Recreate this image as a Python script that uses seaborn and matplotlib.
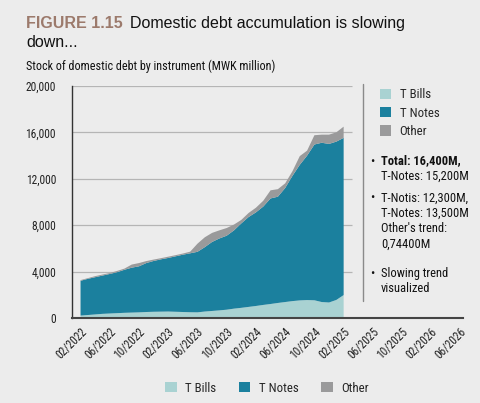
import matplotlib
matplotlib.use("Agg")
import matplotlib.pyplot as plt
import seaborn as sns
from matplotlib.patches import Patch
from matplotlib.lines import Line2D

# ---------------- data ----------------
month_index = list(range(37))  # 02/2022 ... 02/2025, monthly
t_bills = [250, 300, 350, 400, 430, 460, 490, 510, 530, 560, 580, 590, 600,
           580, 560, 540, 530, 600, 650, 700, 760, 850, 920, 1000, 1080, 1170,
           1250, 1340, 1420, 1500, 1560, 1590, 1570, 1420, 1380, 1600, 2020]
t_notes = [3000, 3120, 3210, 3300, 3410, 3530, 3710, 3870, 3970, 4220, 4380,
           4510, 4620, 4780, 4940, 5080, 5220, 5550, 5950, 6200, 6380, 6750,
           7280, 7750, 8070, 8480, 9100, 9160, 9830, 10800, 11690, 12450,
           13430, 13730, 13670, 13650, 13550]
other = [60, 60, 90, 90, 80, 110, 100, 270, 280, 170, 120, 100, 110, 100, 100,
         140, 700, 850, 780, 700, 660, 500, 300, 350, 400, 500, 700, 650, 400,
         400, 750, 430, 800, 700, 800, 800, 970]
series_names = ["T Bills", "T Notes", "Other"]
tick_positions = list(range(0, 53, 4))
tick_labels = ["02/2022", "06/2022", "10/2022", "02/2023", "06/2023", "10/2023",
               "02/2024", "06/2024", "10/2024", "02/2025", "06/2025", "10/2025",
               "02/2026", "06/2026"]
y_ticks = [0, 4000, 8000, 12000, 16000, 20000]

title_tag = "FIGURE 1.15"
title_text = "Domestic debt accumulation is slowing"
title_text2 = "down..."
subtitle = "Stock of domestic debt by instrument (MWK million)"

# ---------------- style ----------------
BG = "#ececec"
colors = ["#a9d2d2", "#1b809e", "#9a9a9b"]
COND = ["Roboto Condensed", "DejaVu Sans"]
WIDE = ["Liberation Sans", "DejaVu Sans"]

sns.set_style("white")
plt.rcParams["font.family"] = COND

W, H = 480, 403
fig = plt.figure(figsize=(W / 100, H / 100), dpi=100, facecolor=BG)

def fx(px):
    return px / W

def fy(py):
    return 1 - py / H

ax = fig.add_axes([fx(72), fy(318), (463 - 72) / W, (318 - 86) / H])
ax.set_facecolor(BG)

ax.stackplot(month_index, t_bills, t_notes, other, colors=colors,
             labels=series_names, linewidth=0)

ax.set_xlim(-1.1, 52.4)
ax.set_ylim(0, 20000)
ax.hlines(y_ticks[1:], -1.1, 37.2, colors="#b5b5b5", linewidth=0.9, zorder=0)

ax.set_yticks(y_ticks)
ax.set_yticklabels([f"{v:,}" for v in y_ticks], fontsize=8.3, color="#222222")
ax.tick_params(axis="y", length=4.5, width=0.9, color="#333333", pad=7)
ax.set_xticks(tick_positions)
ax.set_xticklabels(tick_labels, rotation=45, ha="right", va="top",
                   rotation_mode="anchor", fontsize=8.3, color="#222222")
ax.tick_params(axis="x", length=0, pad=5)

for s in ["top", "right"]:
    ax.spines[s].set_visible(False)
ax.spines["left"].set_color("#333333")
ax.spines["left"].set_linewidth(1.0)
ax.spines["bottom"].set_color("#444444")
ax.spines["bottom"].set_linewidth(1.5)

# ---------------- titles ----------------
fig.text(fx(26), fy(28), title_tag, fontsize=11.5, fontweight="bold",
         color="#9c7a6c", family=WIDE, va="baseline")
fig.text(fx(130), fy(28), title_text, fontsize=11.5, color="#111111",
         family=WIDE, va="baseline")
fig.text(fx(26), fy(47), title_text2, fontsize=11.5, color="#111111",
         family=WIDE, va="baseline")
fig.text(fx(26), fy(70), subtitle, fontsize=8.7, color="#111111", va="baseline")

# ---------------- side panel ----------------
fig.add_artist(Line2D([fx(363), fx(363)], [fy(84), fy(301)],
                      transform=fig.transFigure, color="#8a8a8a", linewidth=1.0))

handles = [Patch(facecolor=c, edgecolor="none") for c in colors]
fig.legend(handles, series_names, loc="upper left",
           bbox_to_anchor=(fx(375), fy(83)), frameon=False, fontsize=9.3,
           handlelength=0.85, handleheight=0.85, handletextpad=0.65,
           labelspacing=0.42, borderaxespad=0)

bullets = [
    (161, ["Total: 16,400M,", "T-Notes: 15,200M"], True),
    (198, ["T-Notis: 12,300M,", "T-Notes: 13,500M", "Other's trend:", "0,74400M"], False),
    (273, ["Slowing trend", "visualized"], False),
]
for y0, lines, bold_first in bullets:
    fig.text(fx(370), fy(y0), "•", fontsize=9, va="center", color="#111111")
    for k, line in enumerate(lines):
        fig.text(fx(381), fy(y0 + k * 15.5), line, fontsize=9, va="center",
                 color="#111111",
                 fontweight="bold" if (bold_first and k == 0) else "normal")

# ---------------- bottom legend ----------------
fig.legend(handles, series_names, loc="center", ncol=3,
           bbox_to_anchor=(fx(267), fy(388)), frameon=False, fontsize=9.3,
           handlelength=0.9, handleheight=0.9, handletextpad=0.65,
           columnspacing=1.75, borderaxespad=0)

fig.savefig("out.png", dpi=100, facecolor=BG)
